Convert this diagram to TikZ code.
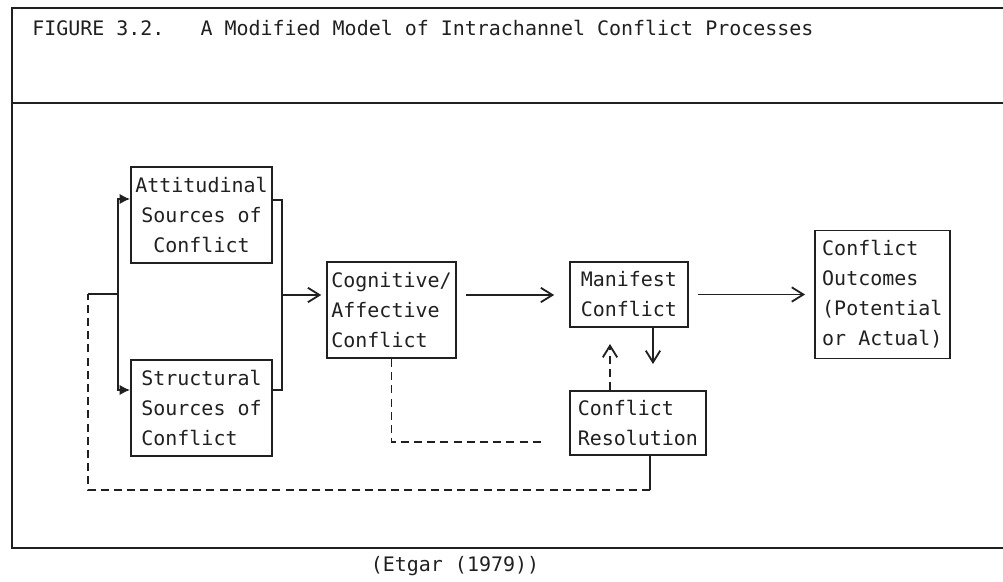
\documentclass[tikz,border=0pt]{standalone}
\usepackage{fontspec}
\newfontfamily\typefont{DejaVu Sans Mono}
\usetikzlibrary{arrows.meta,positioning}
\definecolor{inkdark}{RGB}{32,32,32}
\tikzset{
  cbox/.style={draw=inkdark, line width=1.35pt, align=left, inner xsep=1mm, inner ysep=1mm,
    text=inkdark, font={\typefont\fontsize{14.2}{21.3}\selectfont}},
  txt/.style={text=inkdark, inner sep=0pt, font={\typefont\fontsize{14.2}{21.3}\selectfont}},
  frame/.style={draw=inkdark, line width=1.6pt},
  line/.style={draw=inkdark, line width=1.3pt},
  dashline/.style={draw=inkdark, line width=1.3pt, dash pattern=on 2mm off 1.3mm},
  arr/.style={-{Straight Barb[length=2.9mm,width=3.6mm]}, line width=1.3pt, inkdark},
  dasharr/.style={arr, dash pattern=on 2mm off 1.3mm},
  fillarr/.style={-{Latex[length=2.6mm,width=2.6mm]}, line width=1.3pt, inkdark}
}
\begin{document}
\begin{tikzpicture}[x=0.25mm,y=0.25mm]
  \useasboundingbox (0,0) rectangle (1003,-582);
  % outer frame and heading
  \draw[frame] (1010,-8) -- (12,-8) -- (12,-548) -- (1010,-548);
  \draw[frame] (12,-103) -- (1010,-103);
  \node[txt,anchor=west] (title) at (32,-28) {FIGURE 3.2.\ \ \ A Modified Model of Intrachannel Conflict Processes};
  \node[txt] (source) at (455,-566) {(Etgar (1979))};

  % boxes
  \node[cbox,align=center,minimum width=35.25mm,minimum height=24mm] (att) at (201.5,-215) {Attitudinal\\Sources of\\Conflict};
  \node[cbox,minimum width=35.25mm,minimum height=24mm,below=23.75mm of att] (str) {Structural\\Sources of\\Conflict};
  \node[cbox,minimum width=32.25mm,minimum height=24mm] (cog) at (391.5,-310) {Cognitive/\\Affective\\Conflict};
  \node[cbox,minimum width=29.5mm,minimum height=16.25mm,right=28mm of cog.north east,anchor=north west] (man) {Manifest\\Conflict};
  \node[cbox,minimum width=34mm,minimum height=16mm,below=15.5mm of man.south west,anchor=north west] (res) {Conflict\\Resolution};
  \node[cbox,minimum width=33.75mm,minimum height=32mm,right=31.25mm of man] (out) {Conflict\\Outcomes\\(Potential\\or Actual)};

  % sources bracket
  \coordinate (rtop) at (282,-200);
  \coordinate (rmid) at (282,-295);
  \coordinate (rbot) at (282,-390);
  \draw[line] (att.east |- rtop) -- (rtop) -- (rbot) -- (str.east |- rbot);
  \draw[arr,shorten >=1.2mm] (rmid) -- (cog.west |- rmid);
  \draw[arr,shorten <=2.2mm,shorten >=3.7mm] (cog.east |- rmid) -- (man.west |- rmid);
  \draw[arr,shorten <=2.2mm,shorten >=2.2mm] (man) -- (out);

  % manifest <-> resolution
  \coordinate (mtip) at (653,-364);
  \coordinate (rtip) at (610,-344);
  \draw[arr] (man.south -| mtip) -- (mtip);
  \draw[dasharr] (res.north -| rtip) -- (rtip);

  % feedback loops
  \coordinate (cend) at (545,-442);
  \draw[dashline] (cog.south) |- (cend);
  \coordinate (ltop) at (118,-199);
  \coordinate (lmid) at (118,-294);
  \coordinate (lbot) at (118,-390);
  \coordinate (fbr) at (650,-490);
  \coordinate (fbl) at (88,-490);
  \coordinate (fbt) at (88,-294);
  \draw[line] (res.south -| fbr) -- (fbr);
  \draw[dashline] (fbr) -- (fbl) -- (fbt);
  \draw[line] (fbt) -- (lmid);
  \draw[fillarr] (lmid) |- (att.west |- ltop);
  \draw[fillarr] (lmid) |- (str.west |- lbot);
\end{tikzpicture}
\end{document}
